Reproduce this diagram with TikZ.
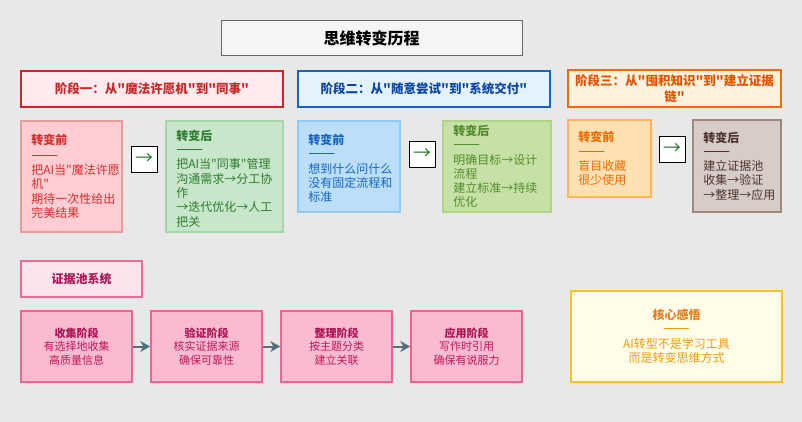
\documentclass[tikz,border=0pt]{standalone}
\usepackage{fontspec}
\setmainfont{Noto Sans CJK SC}[Ligatures=TeXOff]
\usetikzlibrary{arrows.meta}
\definecolor{bgc}{HTML}{E8E8E8}
\definecolor{sAhf}{HTML}{FFEBEE}\definecolor{sAhd}{HTML}{C62828}
\definecolor{sAbf}{HTML}{FFCDD2}\definecolor{sAbd}{HTML}{EF9A9A}\definecolor{sAbt}{HTML}{D32F2F}
\definecolor{sAaf}{HTML}{C8E6C9}\definecolor{sAad}{HTML}{A5D6A7}\definecolor{sAat}{HTML}{2E7D32}
\definecolor{sBhf}{HTML}{E3F2FD}\definecolor{sBhd}{HTML}{1565C0}\definecolor{sBht}{HTML}{0D47A1}
\definecolor{sBbf}{HTML}{BBDEFB}\definecolor{sBbd}{HTML}{90CAF9}\definecolor{sBbt}{HTML}{1565C0}
\definecolor{sBaf}{HTML}{C5E1A5}\definecolor{sBad}{HTML}{AED581}\definecolor{sBat}{HTML}{558B2F}
\definecolor{sChf}{HTML}{FFF3E0}\definecolor{sChd}{HTML}{EF6C00}\definecolor{sCht}{HTML}{E65100}
\definecolor{sCbf}{HTML}{FFE0B2}\definecolor{sCbd}{HTML}{FFB74D}\definecolor{sCbt}{HTML}{EF6C00}
\definecolor{sCaf}{HTML}{D7CCC8}\definecolor{sCad}{HTML}{A1887F}\definecolor{sCat}{HTML}{4E342E}
\definecolor{pf}{HTML}{FCE4EC}\definecolor{pd}{HTML}{EC6A94}\definecolor{pt}{HTML}{AD1457}
\definecolor{ef}{HTML}{F8BBD0}\definecolor{ed}{HTML}{F06292}\definecolor{et}{HTML}{C2185B}
\definecolor{cf}{HTML}{FFFDE7}\definecolor{cd}{HTML}{FBC02D}\definecolor{ct}{HTML}{F39C12}\definecolor{ctt}{HTML}{E67E22}
\definecolor{arr}{HTML}{546E7A}
\newcommand{\dsh}{{\fontsize{16}{14}\selectfont ——}}
\begin{document}
\begin{tikzpicture}[x=1pt,y=-1pt,
  box/.style={rectangle,inner sep=0pt},
  hdr/.style={box,line width=2pt,font={\fontsize{12.5}{16}\selectfont\bfseries},align=center,minimum height=36pt},
  card/.style={box,line width=1.6pt},
  ctext/.style={anchor=west,inner sep=0pt,align=left,font={\fontsize{12}{14.3}\selectfont}},
  arrbox/.style={box,draw=black,fill=white,line width=0.8pt,minimum width=26pt,minimum height=26pt,text=sAat,font={\fontsize{18}{18}\selectfont}},
  ebox/.style={box,draw=ed,fill=ef,line width=1.6pt,minimum width=111pt,minimum height=71pt,align=center,text=et,font={\fontsize{11}{13.5}\selectfont}},
  flow/.style={draw=arr,line width=2pt,-{Stealth[length=10pt,width=11pt]}}
]
\fill[bgc] (0,0) rectangle (802,422);
\useasboundingbox (0,0) rectangle (802,422);
% title
\node[box,draw=black!60,fill=black!4,line width=1pt,minimum width=301pt,minimum height=35pt,font={\fontsize{16}{18}\selectfont\bfseries}] (title) at (371.5,38.5) {思维转变历程};
% stage 1
\node[hdr,draw=sAhd,fill=sAhf,text=sAhd,minimum width=262pt] (h1) at (152,89) {阶段一：从"魔法许愿机"到"同事"};
\node[card,draw=sAbd,fill=sAbf,minimum width=101pt,minimum height=111pt] (b1) at (71.5,176.5) {};
\node[ctext,text=sAbt] (b1t) at ([xshift=11pt]b1.west) {\textbf{转变前}\\[1pt]\dsh\\把AI当"魔法许愿\\机"\\期待一次性给出\\完美结果};
\node[arrbox] (a1) at (144,159) {→};
\node[card,draw=sAad,fill=sAaf,minimum width=117pt,minimum height=111pt] (f1) at (224.5,176.5) {};
\node[ctext,text=sAat] (f1t) at ([xshift=11pt,yshift=-2pt]f1.west) {\textbf{转变后}\\\dsh\\把AI当"同事"管理\\沟通需求→分工协\\作\\→迭代优化→人工\\把关};
% stage 2
\node[hdr,draw=sBhd,fill=sBhf,text=sBht,minimum width=252pt] (h2) at (424,89) {阶段二：从"随意尝试"到"系统交付"};
\node[card,draw=sBbd,fill=sBbf,minimum width=102pt,minimum height=91pt] (b2) at (349,166.5) {};
\node[ctext,text=sBbt] (b2t) at ([xshift=11pt,yshift=-2pt]b2.west) {\textbf{转变前}\\\dsh\\想到什么问什么\\没有固定流程和\\标准};
\node[arrbox] (a2) at (422,154) {→};
\node[card,draw=sBad,fill=sBaf,minimum width=108pt,minimum height=91pt] (f2) at (497,166.5) {};
\node[ctext,text=sBat] (f2t) at ([xshift=11pt]f2.west) {\textbf{转变后}\\\dsh\\明确目标→设计\\流程\\建立标准→持续\\优化};
% stage 3
\node[hdr,draw=sChd,fill=sChf,text=sCht,minimum width=213pt,minimum height=37pt] (h3) at (674.5,88.5) {阶段三：从"囤积知识"到"建立证据\\链"};
\node[card,draw=sCbd,fill=sCbf,minimum width=83pt,minimum height=77pt] (b3) at (609.5,158.5) {};
\node[ctext,text=sCbt] (b3t) at ([xshift=11pt]b3.west) {\textbf{转变前}\\\dsh\\盲目收藏\\很少使用};
\node[arrbox] (a3) at (672,149) {→};
\node[card,draw=sCad,fill=sCaf,minimum width=88pt,minimum height=92pt] (f3) at (737,166) {};
\node[ctext,text=sCat] (f3t) at ([xshift=11pt]f3.west) {\textbf{转变后}\\\dsh\\建立证据池\\收集→验证\\→整理→应用};
% evidence pool
\node[box,draw=pd,fill=pf,line width=1.6pt,minimum width=121pt,minimum height=36pt,text=pt,font={\fontsize{12}{14}\selectfont\bfseries}] (pool) at (81.5,279) {证据池系统};
\node[ebox] (e1) at (76.5,346.5) {\textcolor{pt}{\textbf{收集阶段}}\\有选择地收集\\高质量信息};
\node[ebox] (e2) at (206.5,346.5) {\textcolor{pt}{\textbf{验证阶段}}\\核实证据来源\\确保可靠性};
\node[ebox] (e3) at (336.5,346.5) {\textcolor{pt}{\textbf{整理阶段}}\\按主题分类\\建立关联};
\node[ebox] (e4) at (466.5,346.5) {\textcolor{pt}{\textbf{应用阶段}}\\写作时引用\\确保有说服力};
\draw[flow] (e1) -- (e2);
\draw[flow] (e2) -- (e3);
\draw[flow] (e3) -- (e4);
% core insight
\node[box,draw=cd,fill=cf,line width=2pt,minimum width=211pt,minimum height=91pt,align=center,text=ct,font={\fontsize{12}{14.5}\selectfont}] (core) at (676.5,336.5) {\textcolor{ctt}{\textbf{核心感悟}}\\\dsh\\AI转型不是学习工具\\而是转变思维方式};
\end{tikzpicture}
\end{document}
